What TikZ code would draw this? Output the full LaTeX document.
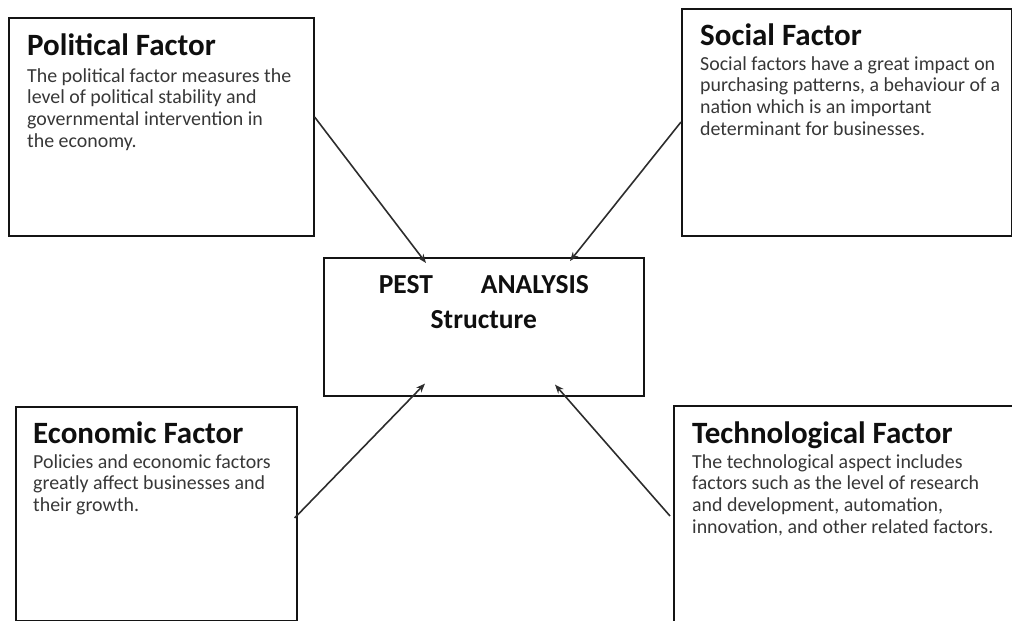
\documentclass[tikz,border=0pt]{standalone}
\usepackage{fontspec}
\setmainfont{Carlito}
\usetikzlibrary{positioning, arrows.meta}
\definecolor{boxLine}{RGB}{20, 20, 20}
\definecolor{titleColor}{RGB}{15, 15, 15}
\definecolor{bodyColor}{RGB}{55, 55, 55}
\definecolor{arrowColor}{RGB}{45, 45, 45}
\tikzset{
    factor_box/.style={
        rectangle,
        draw=boxLine,
        line width=1.6pt,
        inner sep=0pt,
        anchor=north west
    },
    factor_title/.style={
        anchor=base west,
        inner sep=0pt,
        text=titleColor,
        font=\fontsize{31}{36}\selectfont\bfseries
    },
    factor_text/.style={
        anchor=north west,
        inner sep=0pt,
        align=left,
        text=bodyColor,
        font=\fontsize{19.9}{21.8}\selectfont
    },
    pest_text/.style={
        anchor=base,
        inner sep=0pt,
        align=center,
        text=titleColor,
        font=\fontsize{27.5}{35}\selectfont\bfseries
    },
    pest_edge/.style={
        -{Stealth[length=9pt, width=7pt]},
        line width=1.6pt,
        draw=arrowColor
    }
}

\begin{document}
\begin{tikzpicture}[x=1pt, y=-1pt]
    \useasboundingbox (0,0) rectangle (1012,621);

    \node[factor_box, minimum width=305pt, minimum height=218pt] (pol) at (8,17) {};
    \node[factor_box, minimum width=330pt, minimum height=227pt] (soc) at (681,8) {};
    \node[factor_box, minimum width=320pt, minimum height=138pt] (pest) at (323,257) {};
    \node[factor_box, minimum width=281pt, minimum height=214pt] (eco) at (15,406) {};
    \node[factor_box, minimum width=350pt, minimum height=230pt] (tech) at (673,405) {};

    \node[factor_title] (polTitle) at ([xshift=19pt, yshift=-38pt]pol.north west) {Political Factor};
    \node[factor_text] (polText) at ([yshift=-11.7pt]polTitle.base west)
        {\strut The political factor measures the\\level of political stability and\\governmental intervention in\\the economy.};

    \node[factor_title] (socTitle) at ([xshift=19pt, yshift=-37pt]soc.north west) {Social Factor};
    \node[factor_text] (socText) at ([yshift=-9.7pt]socTitle.base west)
        {\strut Social factors have a great impact on\\purchasing patterns, a behaviour of a\\nation which is an important\\determinant for businesses.};

    \node[factor_title] (ecoTitle) at ([xshift=18pt, yshift=-37pt]eco.north west) {Economic Factor};
    \node[factor_text] (ecoText) at ([yshift=-9.7pt]ecoTitle.base west)
        {\strut Policies and economic factors\\greatly affect businesses and\\their growth.};

    \node[factor_title] (techTitle) at ([xshift=19pt, yshift=-38pt]tech.north west) {Technological Factor};
    \node[factor_text] (techText) at ([yshift=-9.7pt]techTitle.base west)
        {\strut The technological aspect includes\\factors such as the level of research\\and development, automation,\\innovation, and other related factors.};

    \node[pest_text] (pestText) at ([yshift=-71pt]pest.north)
        {PEST\hspace{48pt}ANALYSIS\\Structure};

    \draw[pest_edge] ([yshift=-100pt]pol.north east) -- ([xshift=103pt, yshift=-6pt]pest.north west);
    \draw[pest_edge] ([yshift=-114pt]soc.north west) -- ([xshift=247pt, yshift=-4pt]pest.north west);
    \draw[pest_edge] ([xshift=-3pt, yshift=-112pt]eco.north east) -- ([xshift=102pt, yshift=13pt]pest.south west);
    \draw[pest_edge] ([xshift=-3pt, yshift=-111pt]tech.north west) -- ([xshift=232pt, yshift=12pt]pest.south west);
\end{tikzpicture}
\end{document}
